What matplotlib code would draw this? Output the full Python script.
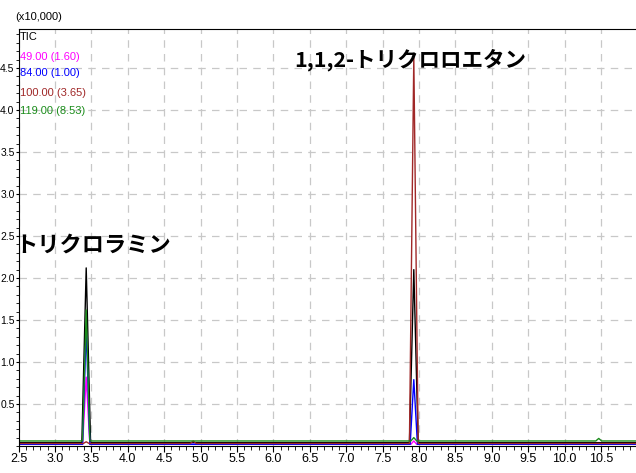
import matplotlib.pyplot as plt
from matplotlib.ticker import MultipleLocator

plt.rcParams['font.family'] = ['Liberation Sans', 'DejaVu Sans']

# retention time (min) / intensity (x10,000)
rt_tic = [2.5, 3.37, 3.43, 3.49, 7.87, 7.93, 7.99, 11.0]
y_tic = [0.04, 0.04, 2.12, 0.04, 0.04, 2.10, 0.04, 0.04]

rt_49 = [2.5, 3.38, 3.43, 3.48, 7.89, 7.93, 7.97, 11.0]
y_49 = [0.02, 0.02, 0.82, 0.02, 0.02, 0.06, 0.02, 0.02]

rt_84 = [2.5, 3.38, 3.43, 3.48, 7.88, 7.93, 7.98, 11.0]
y_84 = [0.02, 0.02, 1.40, 0.02, 0.02, 0.79, 0.02, 0.02]

rt_100 = [2.5, 3.39, 3.43, 3.47, 4.86, 4.9, 4.94, 7.87, 7.93, 7.99, 11.0]
y_100 = [0.03, 0.03, 0.05, 0.03, 0.03, 0.06, 0.03, 0.03, 4.63, 0.03, 0.03]

rt_119 = [2.5, 3.38, 3.43, 3.48, 7.89, 7.93, 7.97, 10.43, 10.47, 10.51, 11.0]
y_119 = [0.06, 0.06, 1.62, 0.06, 0.06, 0.10, 0.06, 0.06, 0.09, 0.06, 0.06]

labels = ['TIC', '49.00 (1.60)', '84.00 (1.00)', '100.00 (3.65)', '119.00 (8.53)']
colors = ['black', '#ff00ff', '#0000ff', '#a02828', '#1a8c1a']

fig = plt.figure(figsize=(6.36, 4.73), dpi=100)
ax = fig.add_axes([18.5 / 636, 27 / 473, 1 - 18.5 / 636, (446 - 29) / 473])

ax.plot(rt_tic, y_tic, color=colors[0], lw=1)
ax.plot(rt_49, y_49, color=colors[1], lw=1)
ax.plot(rt_84, y_84, color=colors[2], lw=1)
ax.plot(rt_100, y_100, color=colors[3], lw=1)
ax.plot(rt_119, y_119, color=colors[4], lw=1)

ax.set_xlim(2.5, 2.5 + (636 - 18.5) / 72.8)
ax.set_ylim(0, (446 - 29) / 84)

ax.xaxis.set_major_locator(MultipleLocator(0.5))
ax.xaxis.set_minor_locator(MultipleLocator(0.1))
ax.yaxis.set_minor_locator(MultipleLocator(0.1))
ax.set_yticks([0.5, 1.0, 1.5, 2.0, 2.5, 3.0, 3.5, 4.0, 4.5])
ax.tick_params(axis='x', which='major', direction='out', length=4, labelsize=9, pad=1)
ax.tick_params(axis='y', which='major', direction='out', length=2.5, labelsize=7.5, pad=0.3)
ax.tick_params(which='minor', direction='out', length=3)
ax.tick_params(axis='y', which='minor', length=2)
ax.grid(True, which='major', color='#c8c8c8', ls=(0, (6, 5)), lw=0.9)
ax.spines['right'].set_visible(False)

for i, (lab, c) in enumerate(zip(labels, colors)):
    fig.text(20 / 636, 1 - [37, 57, 73, 93, 111][i] / 473, lab, color=c,
             fontsize=8, va='center', ha='left')
fig.text(15 / 636, 1 - 17 / 473, '(x10,000)', fontsize=8, va='center')

jp = ['Noto Sans CJK JP', 'DejaVu Sans']
ax.text(3.53, 2.39, 'トリクロラミン', family=jp, fontsize=16, fontweight='bold',
        ha='center', va='center')
ax.text(7.88, 4.6, '1,1,2-トリクロロエタン', family=jp, fontsize=15.5,
        fontweight='bold', ha='center', va='center')

fig.savefig('out.png', dpi=100)
